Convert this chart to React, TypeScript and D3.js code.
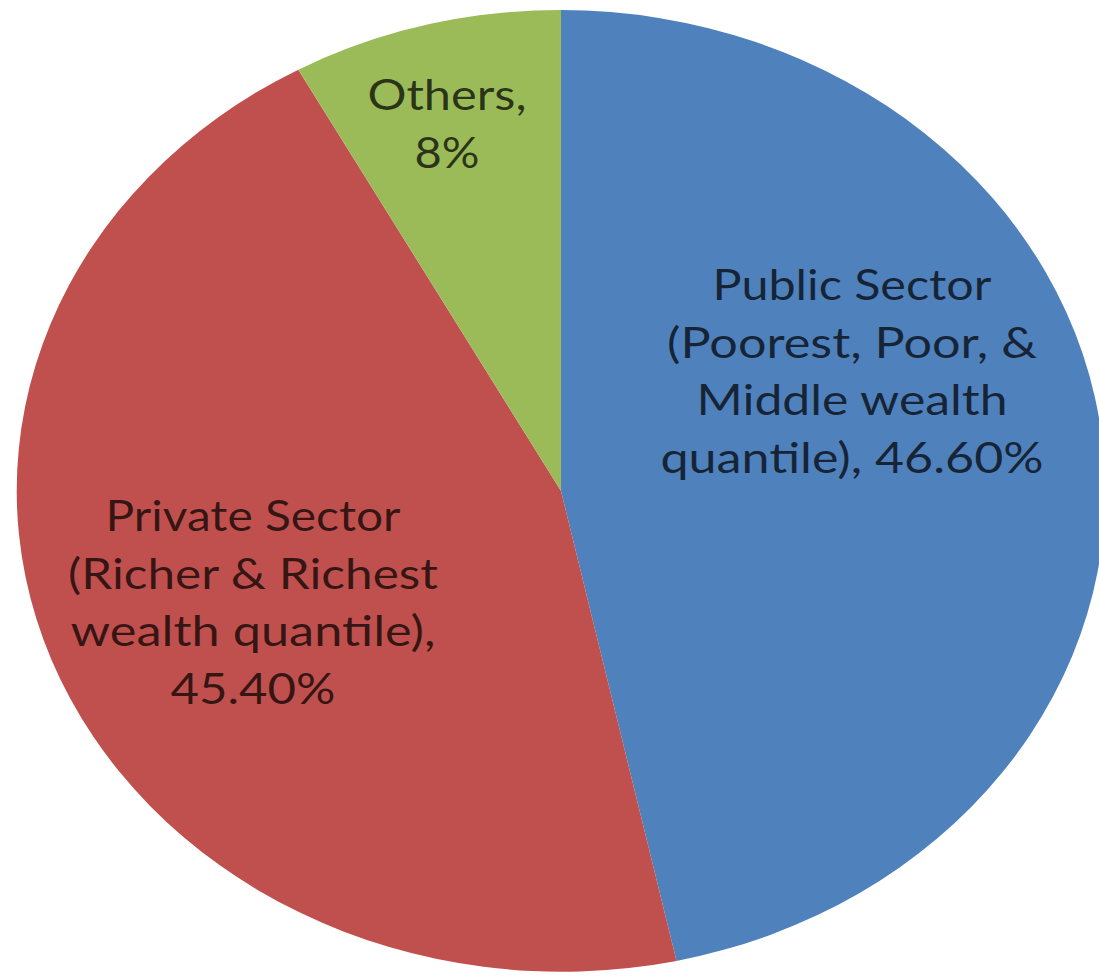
import React from "react";
import * as d3 from "d3";

const categories = [
  "Public Sector (Poorest, Poor, & Middle wealth quantile)",
  "Private Sector (Richer & Richest wealth quantile)",
  "Others",
];
const values = [46.6, 45.4, 8];
const labelLines = [
  ["Public Sector", "(Poorest, Poor, &", "Middle wealth", "quantile), 46.60%"],
  ["Private Sector", "(Richer & Richest", "wealth quantile),", "45.40%"],
  ["Others,", "8%"],
];
const colors = ["#4F81BD", "#C0504D", "#9BBB59"];

// layout (pixels)
const W = 1099;
const H = 976;
const CX = 561;
const CY = 491;
const RX = 545;
const RY = 481;
const LINE_H = 57.5;
const labelLayout = [
  { x: 852, y: 300, widths: [279, 370, 311, 383] },
  { x: 253, y: 531, widths: [295, 370, 365, 165] },
  { x: 447, y: 110, widths: [159, 65] },
];

export default function App() {
  const pie = d3
    .pie<number>()
    .sort(null)
    .startAngle(0)
    .endAngle(2 * Math.PI)
    .value((d) => d);
  const arcs = pie(values);
  const arc = d3.arc<d3.PieArcDatum<number>>().innerRadius(0).outerRadius(1);

  return (
    <svg
      width={W}
      height={H}
      viewBox={`0 0 ${W} ${H}`}
      style={{ position: "absolute", left: 0, top: 0, display: "block", background: "#fff" }}
    >
      <g transform={`translate(${CX},${CY}) scale(${RX},${RY})`}>
        {arcs.map((a, i) => (
          <path key={categories[i]} d={arc(a) || ""} fill={colors[i]} />
        ))}
      </g>
      {labelLines.map((lines, i) => (
        <text
          key={categories[i]}
          fontFamily="Lato, 'Open Sans', sans-serif"
          fontSize={43}
          fill="#000"
          fillOpacity={0.72}
          textAnchor="middle"
        >
          {lines.map((ln, j) => (
            <tspan
              key={j}
              x={labelLayout[i].x}
              y={labelLayout[i].y + j * LINE_H}
              textLength={labelLayout[i].widths[j]}
              lengthAdjust="spacingAndGlyphs"
            >
              {ln}
            </tspan>
          ))}
        </text>
      ))}
    </svg>
  );
}
